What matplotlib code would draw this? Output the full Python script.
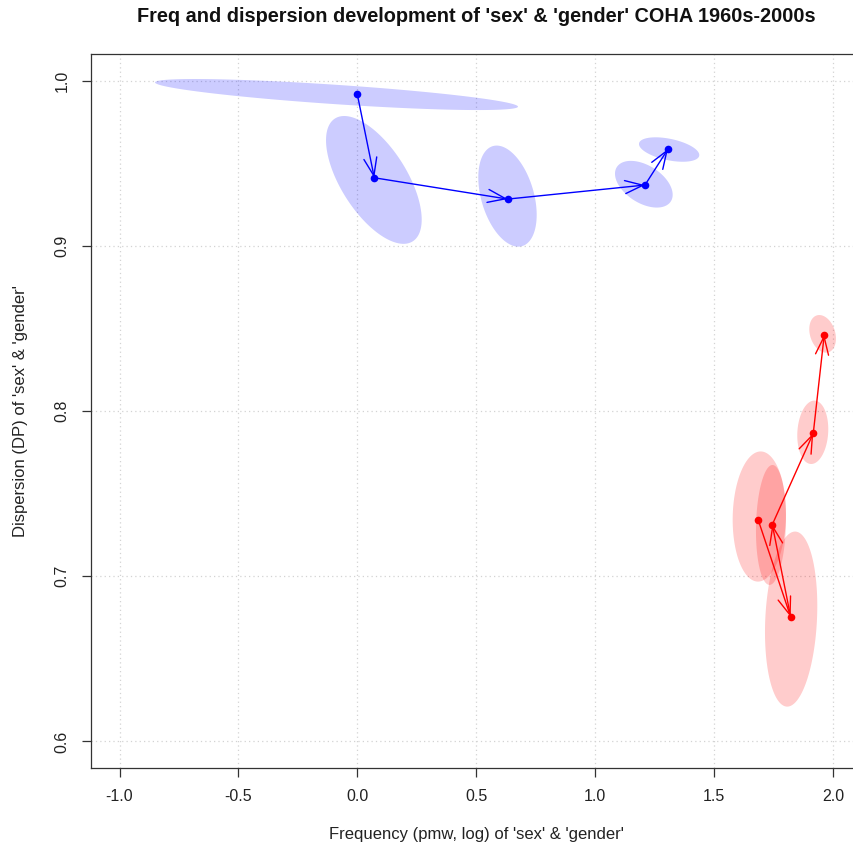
import numpy as np
import matplotlib
matplotlib.use("Agg")
import matplotlib.pyplot as plt

# ---- data ----
decades = ["1960s", "1970s", "1980s", "1990s", "2000s"]

gender_freq = [0.000, 0.0715, 0.6325, 1.2098, 1.3066]
gender_dp = [0.9918, 0.9413, 0.9284, 0.9369, 0.9587]

sex_freq = [1.6863, 1.8226, 1.7452, 1.9176, 1.9638]
sex_dp = [0.7340, 0.6754, 0.7313, 0.7866, 0.8463]

# confidence ellipses: centre, spread in x / y, correlation
gender_ell_cx = [-0.0875, 0.0696, 0.6316, 1.2050, 1.3114]
gender_ell_cy = [0.9917, 0.9400, 0.9302, 0.9374, 0.9584]
gender_ell_sx = [0.7632, 0.2012, 0.1228, 0.1213, 0.1268]
gender_ell_sy = [0.0094, 0.0387, 0.0306, 0.01414, 0.0074]
gender_ell_rho = [-0.78, -0.62, -0.37, -0.45, -0.45]

sex_ell_cx = [1.6907, 1.8245, 1.7397, 1.9155, 1.9569]
sex_ell_cy = [0.7362, 0.6741, 0.7311, 0.7872, 0.8468]
sex_ell_sx = [0.1121, 0.1100, 0.0631, 0.0652, 0.0561]
sex_ell_sy = [0.0394, 0.0530, 0.0363, 0.0192, 0.0114]
sex_ell_rho = [0.05, 0.15, 0.10, 0.10, -0.25]

xticks = [-1.0, -0.5, 0.0, 0.5, 1.0, 1.5, 2.0]
yticks = [0.6, 0.7, 0.8, 0.9, 1.0]

title = "Freq and dispersion development of 'sex' & 'gender' COHA 1960s-2000s"
xlabel = "Frequency (pmw, log) of 'sex' & 'gender'"
ylabel = "Dispersion (DP) of 'sex' & 'gender'"

plt.rcParams['font.family'] = ['Liberation Sans', 'DejaVu Sans']

W, H = 854, 848
fig = plt.figure(figsize=(W / 100, H / 100), dpi=100)
# axes box (right edge falls just outside the figure, as in the reference)
ax = fig.add_axes([91 / W, (H - 767.9) / H, (861.4 - 91) / W, (767.9 - 54.4) / H])
ax.set_xlim(-1.12, 2.12)
ax.set_ylim(0.584, 1.016)

# grid
for xv in xticks:
    ax.axvline(xv, color='#d3d3d3', lw=0.9, ls=(0, (1, 2.5)), zorder=0)
for yv in yticks:
    ax.axhline(yv, color='#d3d3d3', lw=0.9, ls=(0, (1, 2.5)), zorder=0)


def ellipse(cx, cy, sx, sy, rho, n=300):
    t = np.linspace(0, 2 * np.pi, n)
    d = np.arccos(rho)
    return cx + sx * np.cos(t + d / 2), cy + sy * np.cos(t - d / 2)


for cx, cy, sx, sy, r in zip(gender_ell_cx, gender_ell_cy, gender_ell_sx, gender_ell_sy, gender_ell_rho):
    ex, ey = ellipse(cx, cy, sx, sy, r)
    ax.fill(ex, ey, facecolor=(0, 0, 1, 0.2), edgecolor='none', zorder=1)
for cx, cy, sx, sy, r in zip(sex_ell_cx, sex_ell_cy, sex_ell_sx, sex_ell_sy, sex_ell_rho):
    ex, ey = ellipse(cx, cy, sx, sy, r)
    ax.fill(ex, ey, facecolor=(1, 0, 0, 0.2), edgecolor='none', zorder=1)

astyle = '->,head_length=12.9,head_width=4.7'
for xs, ys, col in [(gender_freq, gender_dp, '#0000ff'), (sex_freq, sex_dp, '#ff0000')]:
    for i in range(len(xs) - 1):
        ax.annotate('', xy=(xs[i + 1], ys[i + 1]), xytext=(xs[i], ys[i]),
                    arrowprops=dict(arrowstyle=astyle, mutation_scale=1, lw=1.0,
                                    color=col, shrinkA=0, shrinkB=0), zorder=2)
    ax.plot(xs, ys, 'o', color=col, ms=5.5, mew=0, zorder=3)

ax.set_xticks(xticks)
ax.set_xticklabels([f"{v:.1f}" for v in xticks])
ax.set_yticks(yticks)
ax.set_yticklabels([f"{v:.1f}" for v in yticks], rotation=90, va='center')
ax.tick_params(direction='out', length=6.5, width=0.9, color='#333333',
               labelsize=11.5, labelcolor='#222222', pad=9)
for sp in ax.spines.values():
    sp.set_color('#333333')
    sp.set_linewidth(0.9)
ax.spines['right'].set_visible(False)

ax.set_xlabel(xlabel, fontsize=12, color='#222222')
ax.xaxis.set_label_coords(0.5, (767.9 - 835) / (767.9 - 54.4))
ax.xaxis.label.set_va('center')
ax.set_ylabel(ylabel, fontsize=12, color='#222222')
ax.yaxis.set_label_coords((21 - 91) / (861.4 - 91), 0.5)
ax.yaxis.label.set_va('center')

fig.text(476.2 / W, 1 - 16 / H, title, ha='center', va='center',
         fontsize=14.3, fontweight='bold', color='#111111')

fig.savefig('out.png', dpi=100)
